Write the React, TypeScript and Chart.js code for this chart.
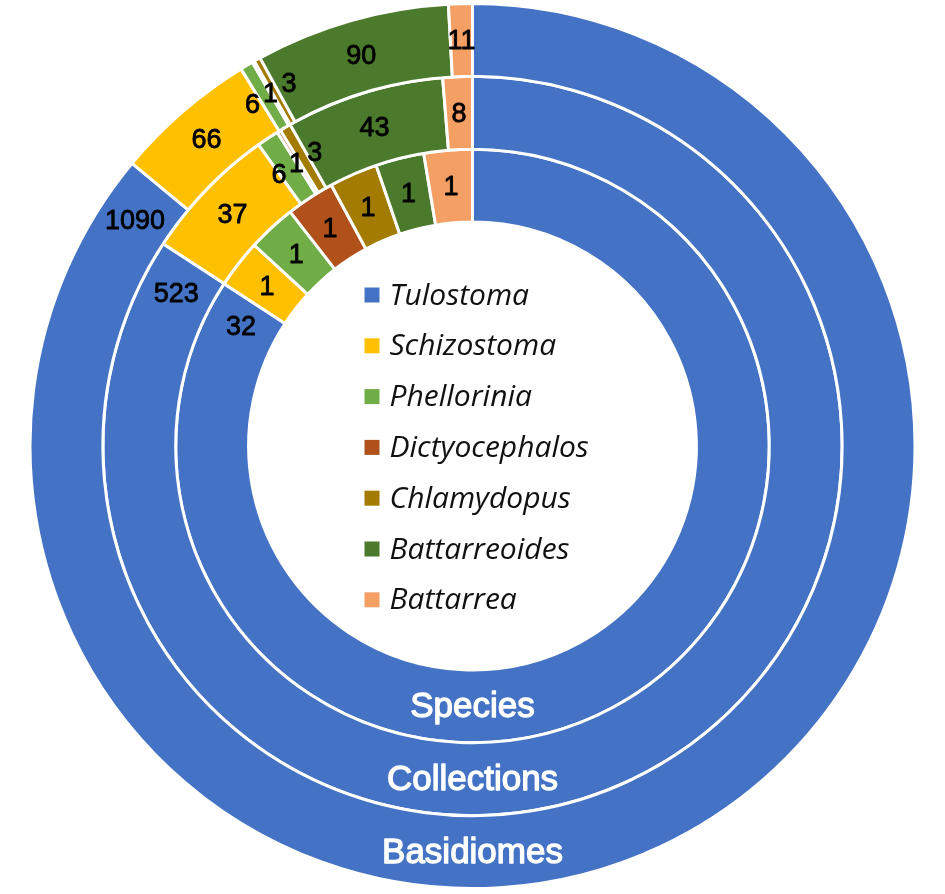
import React, { useEffect, useRef } from 'react';
import { Chart, registerables } from 'chart.js';

Chart.register(...registerables);

const categories = ['Tulostoma', 'Schizostoma', 'Phellorinia', 'Dictyocephalos', 'Chlamydopus', 'Battarreoides', 'Battarrea'];
const basidiomes = [1090, 66, 6, 1, 3, 90, 11];
const collections = [523, 37, 6, 1, 3, 43, 8];
const species = [32, 1, 1, 1, 1, 1, 1];
const ringNames = ['Basidiomes', 'Collections', 'Species'];
const sliceColors = ['#4472C4', '#FFC000', '#70AD47', '#B0501A', '#A37B00', '#4B7A2C', '#F4A064'];

const NUM_FONT = '27px "Liberation Sans", Arial, sans-serif';
const RING_FONT = '35px "Liberation Sans", Arial, sans-serif';
const LEGEND_FONT = 'italic 30px "Open Sans", "Noto Sans", sans-serif';

const labelPlugin = {
  id: 'ringLabels',
  afterDatasetsDraw(chart: any) {
    const ctx: CanvasRenderingContext2D = chart.ctx;
    ctx.save();
    ctx.textAlign = 'center';
    ctx.textBaseline = 'middle';
    ctx.lineJoin = 'round';
    let cx = 0;
    let cy = 0;
    chart.data.datasets.forEach((ds: any, di: number) => {
      const meta = chart.getDatasetMeta(di);
      const items: any[] = [];
      meta.data.forEach((arc: any, i: number) => {
        const p = arc.getProps(['x', 'y', 'startAngle', 'endAngle', 'innerRadius', 'outerRadius'], true);
        cx = p.x;
        cy = p.y;
        const r = (p.innerRadius + p.outerRadius) / 2;
        const text = String(ds.data[i]);
        ctx.font = NUM_FONT;
        const w = ctx.measureText(text).width;
        if (i === 0) {
          const a = p.endAngle - (w / 2 + 12) / r;
          items.push({ text, a, r, h: 0, fixed: true, x: p.x, y: p.y });
          // ring name at the bottom of the ring
          ctx.font = RING_FONT;
          ctx.fillStyle = '#ffffff';
          ctx.strokeStyle = '#ffffff';
          ctx.lineWidth = 1.3;
          ctx.strokeText(ds.label, p.x, p.y + r + 1);
          ctx.fillText(ds.label, p.x, p.y + r + 1);
        } else {
          const a = (p.startAngle + p.endAngle) / 2;
          items.push({ text, a, r, h: (w / 2 + 3) / r, fixed: false, x: p.x, y: p.y });
        }
      });
      // spread labels of tiny neighbouring slices so they do not overlap
      const movable = items.filter((it) => !it.fixed);
      for (let iter = 0; iter < 60; iter++) {
        for (let k = 0; k < movable.length - 1; k++) {
          const A = movable[k];
          const B = movable[k + 1];
          const need = A.h + B.h;
          const gap = B.a - A.a;
          if (gap < need) {
            const d = (need - gap) / 2;
            A.a -= d;
            B.a += d;
          }
        }
      }
      ctx.font = NUM_FONT;
      ctx.fillStyle = '#000000';
      ctx.strokeStyle = '#000000';
      ctx.lineWidth = 0.8;
      items.forEach((it) => {
        const x = it.x + Math.cos(it.a) * it.r;
        const y = it.y + Math.sin(it.a) * it.r + 1;
        ctx.strokeText(it.text, x, y);
        ctx.fillText(it.text, x, y);
      });
    });

    // legend in the hole
    const labels: string[] = chart.data.labels;
    const colors: string[] = chart.data.datasets[0].backgroundColor;
    const step = 50.8;
    const y0 = cy - 151;
    ctx.textAlign = 'left';
    ctx.font = LEGEND_FONT;
    labels.forEach((lab, i) => {
      const y = y0 + i * step;
      ctx.fillStyle = colors[i];
      ctx.fillRect(cx - 108, y - 7.5, 15, 15);
      ctx.fillStyle = '#111111';
      ctx.fillText(lab, cx - 83, y + 1);
    });
    ctx.restore();
  },
};

export default function App() {
  const canvasRef = useRef<HTMLCanvasElement | null>(null);

  useEffect(() => {
    if (!canvasRef.current) return;
    const rings = [basidiomes, collections, species];
    const chart = new Chart(canvasRef.current, {
      type: 'doughnut',
      data: {
        labels: categories,
        datasets: rings.map((vals, i) => ({
          label: ringNames[i],
          data: vals,
          backgroundColor: sliceColors,
          borderColor: '#ffffff',
          borderWidth: 3,
          hoverBorderWidth: 3,
          hoverOffset: 0,
        })),
      },
      options: {
        animation: false,
        responsive: true,
        maintainAspectRatio: false,
        cutout: '50.6%',
        layout: { padding: { top: 2, bottom: 4, left: 0, right: 0 } },
        plugins: {
          legend: { display: false },
          tooltip: { enabled: false },
        },
        events: [],
      },
      plugins: [labelPlugin],
    });
    return () => chart.destroy();
  }, []);

  return (
    <div style={{ position: 'absolute', left: 0, top: 0, width: 945, height: 894, background: '#ffffff' }}>
      <canvas ref={canvasRef} />
    </div>
  );
}
